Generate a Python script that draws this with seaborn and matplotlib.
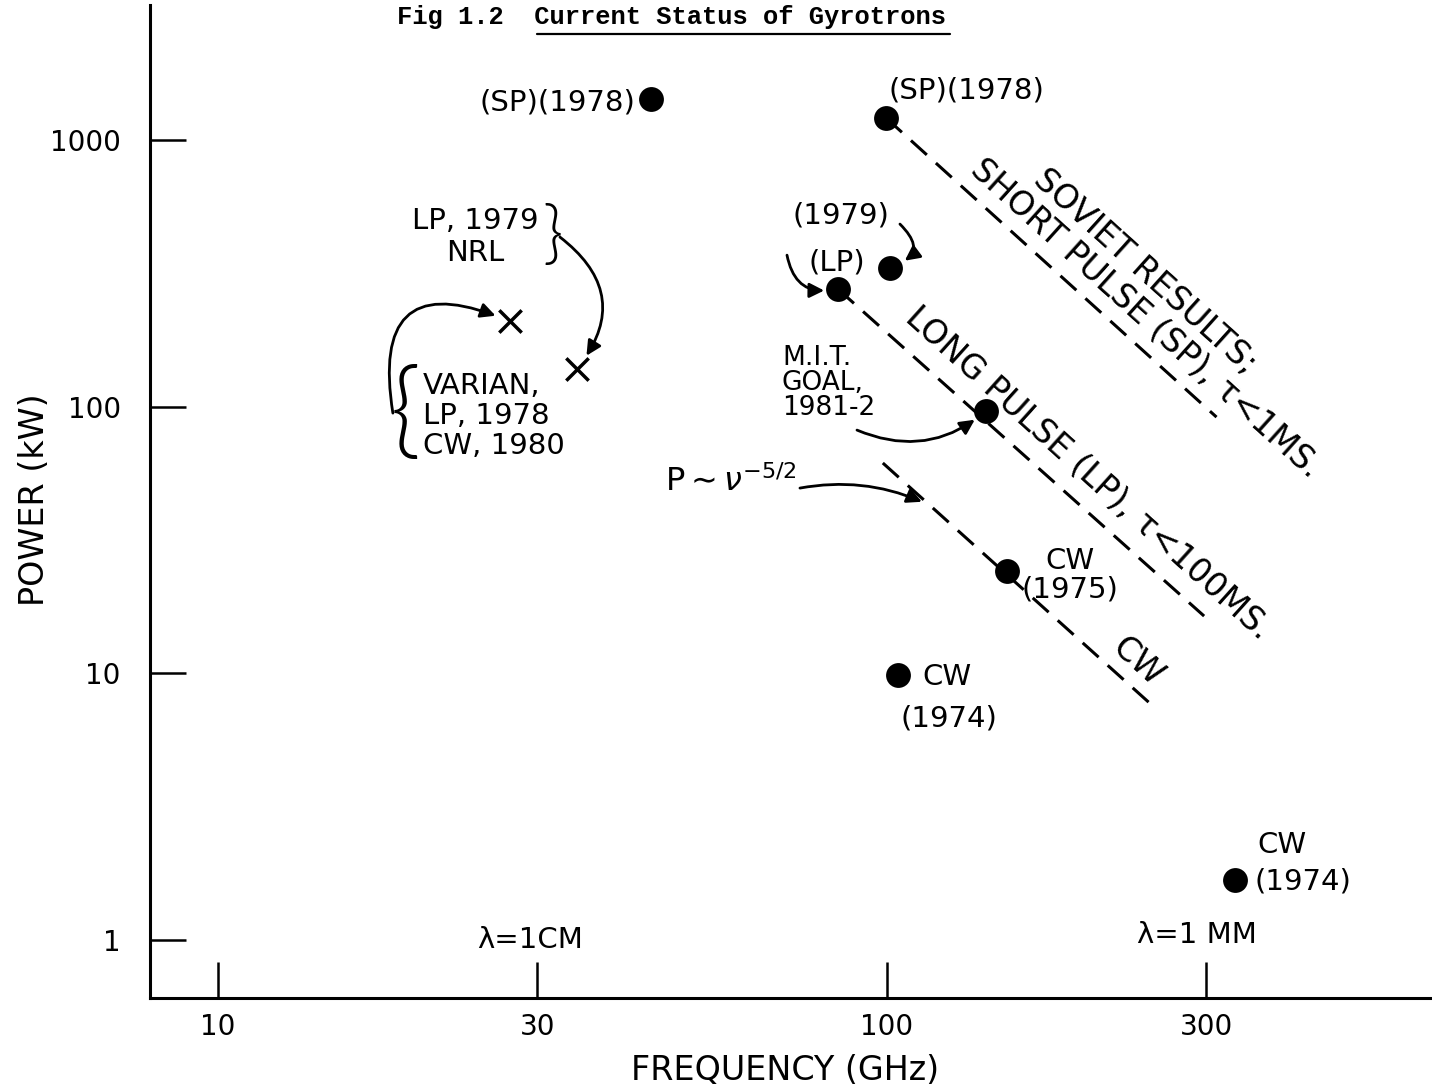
import matplotlib
matplotlib.use("Agg")
import matplotlib.pyplot as plt
from matplotlib.lines import Line2D
import seaborn as sns

# gyrotron results (GHz, kW)
dot_freq = [44.4, 99.7, 101, 84.5, 140.6, 151, 104, 331]
dot_power = [1420, 1210, 331, 276, 96, 24.2, 9.9, 1.68]

# crosses: NRL LP 1979 and Varian LP 1978 / CW 1980
cross_freq = [27.3, 34.4]
cross_power = [209, 138]

# dashed P ~ nu^-5/2 lines (start, end)
sp_freq = [99.7, 311]
sp_power = [1210, 91.4]
lp_freq = [84.5, 298]
lp_power = [276, 16.4]
cw_freq = [98.6, 249]
cw_power = [61.5, 7.6]

freq_ticks = [10, 30, 100, 300]
freq_ticklabels = ["10", "30", "100", "300"]
power_ticks = [1, 10, 100, 1000]
power_ticklabels = ["1", "10", "100", "1000"]

sns.set_style("ticks", rc={"axes.edgecolor": "black", "text.color": "black",
                           "xtick.color": "black", "ytick.color": "black",
                           "axes.labelcolor": "black"})
plt.rcParams["font.family"] = ["DejaVu Sans"]

fig = plt.figure(figsize=(14.32, 10.91), dpi=100)
ax = fig.add_axes([0.1047, 0.0852, 0.8953, 0.9101])
ax.set_xscale("log")
ax.set_yscale("log")

for fx, py in [(sp_freq, sp_power), (lp_freq, lp_power), (cw_freq, cw_power)]:
    sns.lineplot(x=fx, y=py, ax=ax, color="black", lw=2.2, linestyle=(0, (7, 4)),
                 sort=False, estimator=None, legend=False)

sns.scatterplot(x=dot_freq, y=dot_power, s=320, color="black", edgecolor="black",
                linewidth=0, ax=ax, legend=False, zorder=3)
sns.scatterplot(x=cross_freq, y=cross_power, marker="x", s=260, color="black",
                linewidth=2.5, ax=ax, legend=False, zorder=3)

ax.set_xlim(7.91, 653)
ax.set_ylim(0.606, 3205)
ax.set_xticks(freq_ticks)
ax.set_xticklabels(freq_ticklabels)
ax.set_yticks(power_ticks)
ax.set_yticklabels(power_ticklabels)
ax.minorticks_off()
ax.tick_params(axis="x", direction="in", length=26, width=1.8, pad=11, labelsize=20)
ax.tick_params(axis="y", direction="in", length=26, width=1.8, pad=21, labelsize=20)
ax.spines[["top", "right"]].set_visible(False)
for side in ["left", "bottom"]:
    ax.spines[side].set_linewidth(2.2)

ax.set_ylabel("POWER (kW)", fontsize=24, va="center")
ax.yaxis.set_label_coords(-0.0897, 0.5015)
ax.set_xlabel("FREQUENCY (GHz)", fontsize=24, va="center")
ax.xaxis.set_label_coords(0.4953, -0.0725)


def lab(x, y, s, size=21, **kw):
    ax.text(x, y, s, transform=ax.transAxes, fontsize=size, **kw)


brace = dict(ha="center", va="center", family=["Lato", "DejaVu Sans"], weight=300)

lab(0.3783, 0.9023, "(SP)(1978)", ha="right", va="center")
lab(0.5757, 0.9144, "(SP)(1978)", ha="left", va="center")
lab(0.2535, 0.7664, "LP, 1979\nNRL", ha="center", va="center", multialignment="center",
    linespacing=1.15)
lab(0.3144, 0.7664, "}", size=50, **brace)
lab(0.2130, 0.5861, "VARIAN,\nLP, 1978\nCW, 1980", ha="left", va="center", linespacing=1.1)
lab(0.1989, 0.587, "{", size=76, **brace)
lab(0.539, 0.7885, "(1979)", ha="center", va="center")
lab(0.5359, 0.7412, "(LP)", ha="center", va="center")
lab(0.493, 0.6193, "M.I.T.\nGOAL,\n1981-2", size=19, ha="left", va="center", linespacing=0.95)
lab(0.4017, 0.5196, r"P$\sim\nu^{-5/2}$", size=23, ha="left", va="center")
lab(0.7176, 0.426, "CW\n(1975)", ha="center", va="center", multialignment="center",
    linespacing=1.05)
lab(0.6022, 0.3233, "CW", ha="left", va="center")
lab(0.6232, 0.282, "(1974)", ha="center", va="center")
lab(0.883, 0.1541, "CW", ha="center", va="center")
lab(0.8619, 0.1178, "(1974)", ha="left", va="center")
lab(0.2964, 0.0584, "λ=1CM", ha="center", va="center")
lab(0.8167, 0.0634, "λ=1 MM", ha="center", va="center")

rot = dict(rotation=-42, rotation_mode="anchor", ha="center", va="center", size=24)
lab(0.7761, 0.7321, "SOVIET RESULTS;", **rot)
lab(0.7769, 0.6848, "SHORT PULSE (SP), τ<1MS.", **rot)
lab(0.7317, 0.5287, "LONG PULSE (LP), τ<100MS.", **rot)
lab(0.7699, 0.3384, "CW", **rot)


def arrow(start, target, rad, shrink):
    ax.annotate("", xy=target, xycoords="data", xytext=start, textcoords="axes fraction",
                arrowprops=dict(arrowstyle="-|>", color="black", lw=2, mutation_scale=22,
                                shrinkA=0, shrinkB=shrink,
                                connectionstyle=f"arc3,rad={rad}"))


arrow((0.3198, 0.7664), (cross_freq[1], cross_power[1]), -0.5, 12)
arrow((0.1895, 0.5891), (cross_freq[0], cross_power[0]), -0.9, 11)
arrow((0.585, 0.7795), (dot_freq[2], dot_power[2]), -0.8, 12)
arrow((0.4969, 0.7482), (dot_freq[3], dot_power[3]), 0.5, 10)
arrow((0.5515, 0.572), (dot_freq[4], dot_power[4]), 0.3, 10)
arrow((0.507, 0.5136), (112.8, 44), -0.15, 0)

fig.text(0.2772, 0.978, "Fig 1.2  Current Status of Gyrotrons", family="Liberation Mono",
         fontsize=18.4, weight="bold", ha="left", va="baseline")
fig.add_artist(Line2D([0.375, 0.6634], [0.9688, 0.9688], transform=fig.transFigure,
                      color="black", lw=1.6))

fig.savefig("out.png", dpi=100)
